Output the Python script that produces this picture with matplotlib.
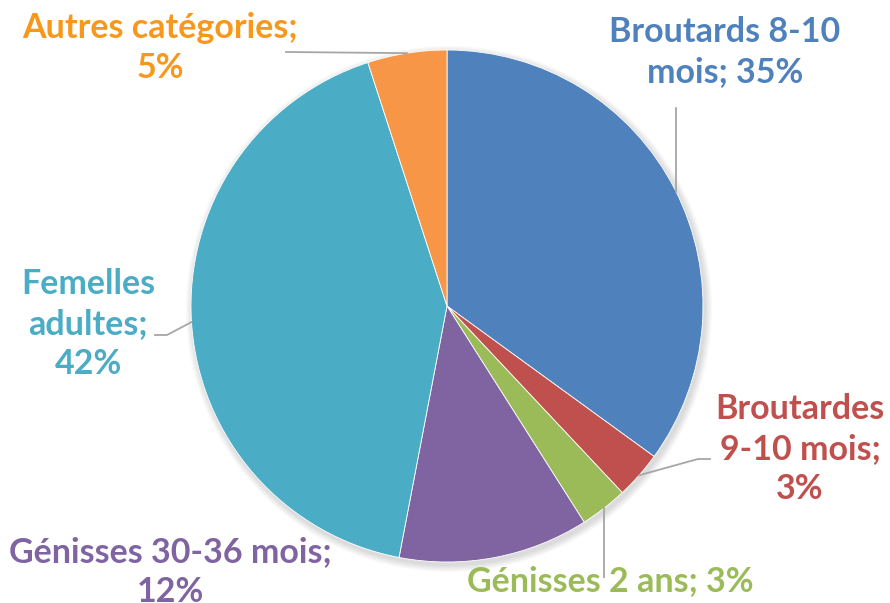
import numpy as np
import matplotlib.pyplot as plt
from matplotlib.patches import Circle

# Répartition du cheptel par catégorie
categories = ["Broutards 8-10\nmois", "Broutardes\n9-10 mois", "Génisses 2 ans",
              "Génisses 30-36 mois", "Femelles\nadultes", "Autres catégories"]
parts = [35, 3, 3, 12, 42, 5]
seps = ["; ", ";\n", "; ", ";\n", ";\n", ";\n"]

slice_colors = ["#4F81BD", "#C0504D", "#9BBB59", "#8064A2", "#4BACC6", "#F79646"]
text_colors = ["#4F81BD", "#C0504D", "#9BBB59", "#8064A2", "#4BACC6", "#F7981D"]

W, H = 890, 603
cx, cy, r = 447, H - 306, 256

fig = plt.figure(figsize=(W / 100, H / 100), dpi=100)
ax = fig.add_axes([0, 0, 1, 1])

# ombre légère
for k in range(6):
    ax.add_patch(Circle((cx + 2, cy - 3), r + 1 + k * 1.2, color="#000000",
                        alpha=0.025, lw=0, zorder=0))

wedges, _ = ax.pie(parts, colors=slice_colors, startangle=90, counterclock=False,
                   center=(cx, cy), radius=r, wedgeprops=dict(linewidth=0.6, edgecolor="white"))
for w in wedges:
    w.set_zorder(2)

# positions des étiquettes (pixels) et coudes des lignes de rappel
label_pos = [(725, 52), (800, 449), (610, 581), (170, 572), (88, 324), (160, 48)]
elbows = [[(676, 108)], [(698, 459), (710, 459)], [(604, 577)], None,
          [(167, 335), (155, 335)], [(286, 52)]]

for i, w in enumerate(wedges):
    txt = categories[i] + seps[i] + f"{parts[i]}%"
    lx, ly = label_pos[i]
    ax.text(lx, H - ly, txt, ha="center", va="center", color=text_colors[i],
            fontsize=24.5, fontweight="bold", family="Lato", linespacing=1.3, zorder=5)
    if elbows[i] is not None:
        mid = np.deg2rad((w.theta1 + w.theta2) / 2)
        if i == 0:
            ex = 676
            ey = cy + np.sqrt(r ** 2 - (ex - cx) ** 2)
        elif i == 2:
            ex = 604
            ey = cy - np.sqrt(r ** 2 - (ex - cx) ** 2)
        else:
            ex, ey = cx + r * np.cos(mid), cy + r * np.sin(mid)
        xs = [ex] + [p[0] for p in elbows[i]]
        ys = [ey] + [H - p[1] for p in elbows[i]]
        ax.plot(xs, ys, color="#A6A6A6", lw=1.3, zorder=3)

ax.set_xlim(0, W)
ax.set_ylim(0, H)
ax.set_aspect("auto")
ax.axis("off")
fig.savefig("out.png", dpi=100)
